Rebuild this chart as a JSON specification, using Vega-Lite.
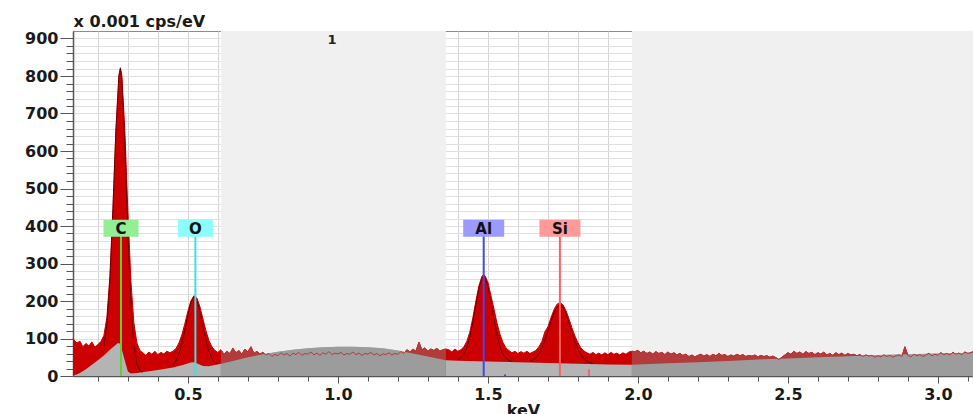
{
  "$schema": "https://vega.github.io/schema/vega-lite/v6.json",
  "width": 900,
  "height": 345,
  "autosize": "none",
  "padding": {"left": 73, "top": 31, "right": 0, "bottom": 38},
  "background": "white",
  "config": {
    "view": {"stroke": "#8c8c8c", "strokeWidth": 1},
    "font": "DejaVu Sans"
  },
  "datasets": {
    "zones": [
      {"e": 0.61, "e2": 1.36},
      {"e": 1.98, "e2": 3.117}
    ],
    "spectrum": [
      {"e": 0.117, "v": 100}, {"e": 0.12, "v": 96}, {"e": 0.13, "v": 88}, {"e": 0.14, "v": 93}, {"e": 0.15, "v": 78},
      {"e": 0.16, "v": 87}, {"e": 0.17, "v": 80}, {"e": 0.18, "v": 91}, {"e": 0.19, "v": 77}, {"e": 0.2, "v": 84},
      {"e": 0.21, "v": 92}, {"e": 0.22, "v": 108}, {"e": 0.23, "v": 157}, {"e": 0.24, "v": 266}, {"e": 0.25, "v": 447},
      {"e": 0.26, "v": 656}, {"e": 0.27, "v": 802}, {"e": 0.275, "v": 822}, {"e": 0.28, "v": 800}, {"e": 0.29, "v": 652},
      {"e": 0.3, "v": 438}, {"e": 0.31, "v": 254}, {"e": 0.32, "v": 141}, {"e": 0.33, "v": 88}, {"e": 0.34, "v": 68},
      {"e": 0.35, "v": 62}, {"e": 0.36, "v": 55}, {"e": 0.37, "v": 64}, {"e": 0.38, "v": 58}, {"e": 0.39, "v": 66},
      {"e": 0.4, "v": 57}, {"e": 0.41, "v": 63}, {"e": 0.42, "v": 59}, {"e": 0.43, "v": 66}, {"e": 0.44, "v": 62},
      {"e": 0.45, "v": 66}, {"e": 0.46, "v": 73}, {"e": 0.47, "v": 88}, {"e": 0.48, "v": 110}, {"e": 0.49, "v": 140},
      {"e": 0.5, "v": 173}, {"e": 0.51, "v": 200}, {"e": 0.52, "v": 214}, {"e": 0.53, "v": 208}, {"e": 0.54, "v": 185},
      {"e": 0.55, "v": 153}, {"e": 0.56, "v": 121}, {"e": 0.57, "v": 95}, {"e": 0.58, "v": 78}, {"e": 0.59, "v": 68},
      {"e": 0.6, "v": 63}, {"e": 0.61, "v": 70}, {"e": 0.62, "v": 58}, {"e": 0.63, "v": 66}, {"e": 0.64, "v": 60},
      {"e": 0.65, "v": 74}, {"e": 0.66, "v": 62}, {"e": 0.67, "v": 68}, {"e": 0.68, "v": 58}, {"e": 0.69, "v": 72},
      {"e": 0.7, "v": 64}, {"e": 0.71, "v": 78}, {"e": 0.72, "v": 60}, {"e": 0.73, "v": 66}, {"e": 0.74, "v": 58},
      {"e": 0.75, "v": 63}, {"e": 0.76, "v": 56}, {"e": 0.77, "v": 60}, {"e": 0.78, "v": 52}, {"e": 0.79, "v": 58},
      {"e": 0.8, "v": 54}, {"e": 0.81, "v": 62}, {"e": 0.82, "v": 56}, {"e": 0.83, "v": 60}, {"e": 0.84, "v": 53},
      {"e": 0.85, "v": 61}, {"e": 0.86, "v": 57}, {"e": 0.87, "v": 63}, {"e": 0.88, "v": 55}, {"e": 0.89, "v": 60},
      {"e": 0.9, "v": 58}, {"e": 0.91, "v": 64}, {"e": 0.92, "v": 56}, {"e": 0.93, "v": 61}, {"e": 0.94, "v": 55},
      {"e": 0.95, "v": 62}, {"e": 0.96, "v": 58}, {"e": 0.97, "v": 65}, {"e": 0.98, "v": 57}, {"e": 0.99, "v": 61},
      {"e": 1.0, "v": 59}, {"e": 1.01, "v": 63}, {"e": 1.02, "v": 56}, {"e": 1.03, "v": 60}, {"e": 1.04, "v": 58},
      {"e": 1.05, "v": 64}, {"e": 1.06, "v": 57}, {"e": 1.07, "v": 61}, {"e": 1.08, "v": 55}, {"e": 1.09, "v": 60},
      {"e": 1.1, "v": 58}, {"e": 1.11, "v": 63}, {"e": 1.12, "v": 56}, {"e": 1.13, "v": 60}, {"e": 1.14, "v": 54},
      {"e": 1.15, "v": 59}, {"e": 1.16, "v": 57}, {"e": 1.17, "v": 62}, {"e": 1.18, "v": 56}, {"e": 1.19, "v": 60},
      {"e": 1.2, "v": 58}, {"e": 1.21, "v": 65}, {"e": 1.22, "v": 60}, {"e": 1.23, "v": 70}, {"e": 1.24, "v": 64},
      {"e": 1.25, "v": 72}, {"e": 1.26, "v": 66}, {"e": 1.27, "v": 90}, {"e": 1.28, "v": 70}, {"e": 1.29, "v": 75},
      {"e": 1.3, "v": 66}, {"e": 1.31, "v": 72}, {"e": 1.32, "v": 68}, {"e": 1.33, "v": 74}, {"e": 1.34, "v": 66},
      {"e": 1.35, "v": 70}, {"e": 1.36, "v": 72}, {"e": 1.37, "v": 70}, {"e": 1.38, "v": 64}, {"e": 1.39, "v": 72},
      {"e": 1.4, "v": 66}, {"e": 1.41, "v": 70}, {"e": 1.42, "v": 78}, {"e": 1.43, "v": 93}, {"e": 1.44, "v": 118},
      {"e": 1.45, "v": 156}, {"e": 1.46, "v": 200}, {"e": 1.47, "v": 240}, {"e": 1.48, "v": 266}, {"e": 1.486, "v": 270},
      {"e": 1.49, "v": 268}, {"e": 1.5, "v": 250}, {"e": 1.51, "v": 215}, {"e": 1.52, "v": 180}, {"e": 1.53, "v": 142},
      {"e": 1.54, "v": 112}, {"e": 1.55, "v": 90}, {"e": 1.56, "v": 75}, {"e": 1.57, "v": 68}, {"e": 1.58, "v": 62},
      {"e": 1.59, "v": 66}, {"e": 1.6, "v": 60}, {"e": 1.61, "v": 65}, {"e": 1.62, "v": 61}, {"e": 1.63, "v": 66},
      {"e": 1.64, "v": 60}, {"e": 1.65, "v": 64}, {"e": 1.66, "v": 68}, {"e": 1.67, "v": 78}, {"e": 1.68, "v": 92},
      {"e": 1.69, "v": 118}, {"e": 1.7, "v": 131}, {"e": 1.71, "v": 155}, {"e": 1.72, "v": 176}, {"e": 1.73, "v": 191},
      {"e": 1.74, "v": 196}, {"e": 1.75, "v": 190}, {"e": 1.76, "v": 175}, {"e": 1.77, "v": 153}, {"e": 1.78, "v": 129},
      {"e": 1.79, "v": 107}, {"e": 1.8, "v": 89}, {"e": 1.81, "v": 75}, {"e": 1.82, "v": 67}, {"e": 1.83, "v": 62},
      {"e": 1.84, "v": 58}, {"e": 1.85, "v": 63}, {"e": 1.86, "v": 57}, {"e": 1.87, "v": 61}, {"e": 1.88, "v": 56},
      {"e": 1.89, "v": 62}, {"e": 1.9, "v": 57}, {"e": 1.91, "v": 63}, {"e": 1.92, "v": 58}, {"e": 1.93, "v": 61},
      {"e": 1.94, "v": 56}, {"e": 1.95, "v": 62}, {"e": 1.96, "v": 58}, {"e": 1.97, "v": 64}, {"e": 1.98, "v": 66},
      {"e": 1.99, "v": 65}, {"e": 2.0, "v": 68}, {"e": 2.01, "v": 62}, {"e": 2.02, "v": 66}, {"e": 2.03, "v": 60},
      {"e": 2.04, "v": 64}, {"e": 2.05, "v": 58}, {"e": 2.06, "v": 65}, {"e": 2.07, "v": 60}, {"e": 2.08, "v": 63},
      {"e": 2.09, "v": 57}, {"e": 2.1, "v": 64}, {"e": 2.11, "v": 58}, {"e": 2.12, "v": 62}, {"e": 2.13, "v": 56},
      {"e": 2.14, "v": 60}, {"e": 2.15, "v": 55}, {"e": 2.16, "v": 58}, {"e": 2.17, "v": 52}, {"e": 2.18, "v": 56},
      {"e": 2.19, "v": 51}, {"e": 2.2, "v": 55}, {"e": 2.21, "v": 58}, {"e": 2.22, "v": 53}, {"e": 2.23, "v": 57},
      {"e": 2.24, "v": 52}, {"e": 2.25, "v": 58}, {"e": 2.26, "v": 54}, {"e": 2.27, "v": 60}, {"e": 2.28, "v": 55},
      {"e": 2.29, "v": 57}, {"e": 2.3, "v": 52}, {"e": 2.31, "v": 56}, {"e": 2.32, "v": 53}, {"e": 2.33, "v": 58},
      {"e": 2.34, "v": 54}, {"e": 2.35, "v": 57}, {"e": 2.36, "v": 52}, {"e": 2.37, "v": 55}, {"e": 2.38, "v": 53},
      {"e": 2.39, "v": 56}, {"e": 2.4, "v": 51}, {"e": 2.41, "v": 55}, {"e": 2.42, "v": 52}, {"e": 2.43, "v": 54},
      {"e": 2.44, "v": 50}, {"e": 2.45, "v": 53}, {"e": 2.46, "v": 49}, {"e": 2.47, "v": 44}, {"e": 2.48, "v": 50},
      {"e": 2.49, "v": 56}, {"e": 2.5, "v": 62}, {"e": 2.51, "v": 58}, {"e": 2.52, "v": 66}, {"e": 2.53, "v": 60},
      {"e": 2.54, "v": 64}, {"e": 2.55, "v": 58}, {"e": 2.56, "v": 65}, {"e": 2.57, "v": 60}, {"e": 2.58, "v": 63},
      {"e": 2.59, "v": 57}, {"e": 2.6, "v": 62}, {"e": 2.61, "v": 58}, {"e": 2.62, "v": 64}, {"e": 2.63, "v": 56},
      {"e": 2.64, "v": 60}, {"e": 2.65, "v": 55}, {"e": 2.66, "v": 62}, {"e": 2.67, "v": 57}, {"e": 2.68, "v": 61},
      {"e": 2.69, "v": 55}, {"e": 2.7, "v": 60}, {"e": 2.71, "v": 56}, {"e": 2.72, "v": 58}, {"e": 2.73, "v": 54},
      {"e": 2.74, "v": 57}, {"e": 2.75, "v": 52}, {"e": 2.76, "v": 56}, {"e": 2.77, "v": 53}, {"e": 2.78, "v": 55},
      {"e": 2.79, "v": 50}, {"e": 2.8, "v": 54}, {"e": 2.81, "v": 51}, {"e": 2.82, "v": 56}, {"e": 2.83, "v": 52},
      {"e": 2.84, "v": 55}, {"e": 2.85, "v": 50}, {"e": 2.86, "v": 54}, {"e": 2.87, "v": 56}, {"e": 2.88, "v": 52},
      {"e": 2.89, "v": 78}, {"e": 2.9, "v": 55}, {"e": 2.91, "v": 51}, {"e": 2.92, "v": 58}, {"e": 2.93, "v": 54},
      {"e": 2.94, "v": 57}, {"e": 2.95, "v": 52}, {"e": 2.96, "v": 56}, {"e": 2.97, "v": 60}, {"e": 2.98, "v": 54},
      {"e": 2.99, "v": 58}, {"e": 3.0, "v": 55}, {"e": 3.01, "v": 62}, {"e": 3.02, "v": 57}, {"e": 3.03, "v": 60},
      {"e": 3.04, "v": 56}, {"e": 3.05, "v": 63}, {"e": 3.06, "v": 58}, {"e": 3.07, "v": 61}, {"e": 3.08, "v": 57},
      {"e": 3.09, "v": 64}, {"e": 3.1, "v": 60}, {"e": 3.11, "v": 62}, {"e": 3.117, "v": 66}
    ],
    "continuum": [
      {"e": 0.117, "v": 0}, {"e": 0.14, "v": 8}, {"e": 0.16, "v": 18}, {"e": 0.18, "v": 30}, {"e": 0.2, "v": 42},
      {"e": 0.22, "v": 55}, {"e": 0.24, "v": 70}, {"e": 0.255, "v": 80}, {"e": 0.267, "v": 88}, {"e": 0.275, "v": 86},
      {"e": 0.28, "v": 70}, {"e": 0.29, "v": 40}, {"e": 0.3, "v": 12}, {"e": 0.31, "v": 7}, {"e": 0.33, "v": 8},
      {"e": 0.4, "v": 16}, {"e": 0.45, "v": 23}, {"e": 0.48, "v": 29}, {"e": 0.51, "v": 36}, {"e": 0.52, "v": 37},
      {"e": 0.535, "v": 32}, {"e": 0.55, "v": 27}, {"e": 0.57, "v": 26}, {"e": 0.61, "v": 33}, {"e": 0.65, "v": 40},
      {"e": 0.7, "v": 50}, {"e": 0.75, "v": 58}, {"e": 0.8, "v": 65}, {"e": 0.85, "v": 70}, {"e": 0.9, "v": 74},
      {"e": 0.95, "v": 77}, {"e": 1.0, "v": 78}, {"e": 1.05, "v": 78}, {"e": 1.1, "v": 77}, {"e": 1.15, "v": 74},
      {"e": 1.2, "v": 68}, {"e": 1.25, "v": 60}, {"e": 1.3, "v": 52}, {"e": 1.36, "v": 42}, {"e": 1.4, "v": 41},
      {"e": 1.5, "v": 39}, {"e": 1.6, "v": 37}, {"e": 1.7, "v": 35}, {"e": 1.8, "v": 33}, {"e": 1.9, "v": 31},
      {"e": 1.98, "v": 30}, {"e": 2.1, "v": 34}, {"e": 2.2, "v": 37}, {"e": 2.3, "v": 40}, {"e": 2.4, "v": 44},
      {"e": 2.5, "v": 47}, {"e": 2.6, "v": 50}, {"e": 2.7, "v": 53}, {"e": 2.8, "v": 56}, {"e": 2.9, "v": 58},
      {"e": 3.0, "v": 60}, {"e": 3.117, "v": 62}
    ],
    "fit": [
      {"peak": "C", "e": 0.22, "v": 79}, {"peak": "C", "e": 0.23, "v": 137}, {"peak": "C", "e": 0.24, "v": 256},
      {"peak": "C", "e": 0.25, "v": 440}, {"peak": "C", "e": 0.26, "v": 655}, {"peak": "C", "e": 0.27, "v": 800},
      {"peak": "C", "e": 0.275, "v": 820}, {"peak": "C", "e": 0.28, "v": 790}, {"peak": "C", "e": 0.29, "v": 615},
      {"peak": "C", "e": 0.3, "v": 380}, {"peak": "C", "e": 0.31, "v": 193}, {"peak": "C", "e": 0.32, "v": 82},
      {"peak": "C", "e": 0.33, "v": 32}, {"peak": "C", "e": 0.34, "v": 14}, {"peak": "C", "e": 0.35, "v": 10},
      {"peak": "O", "e": 0.45, "v": 29}, {"peak": "O", "e": 0.46, "v": 40}, {"peak": "O", "e": 0.47, "v": 58},
      {"peak": "O", "e": 0.48, "v": 86}, {"peak": "O", "e": 0.49, "v": 122}, {"peak": "O", "e": 0.5, "v": 162},
      {"peak": "O", "e": 0.51, "v": 196}, {"peak": "O", "e": 0.52, "v": 212}, {"peak": "O", "e": 0.53, "v": 203},
      {"peak": "O", "e": 0.54, "v": 174}, {"peak": "O", "e": 0.55, "v": 133}, {"peak": "O", "e": 0.56, "v": 97},
      {"peak": "O", "e": 0.57, "v": 66}, {"peak": "O", "e": 0.58, "v": 46}, {"peak": "O", "e": 0.59, "v": 36},
      {"peak": "O", "e": 0.6, "v": 32},
      {"peak": "Al", "e": 1.4, "v": 44}, {"peak": "Al", "e": 1.41, "v": 48}, {"peak": "Al", "e": 1.42, "v": 58},
      {"peak": "Al", "e": 1.43, "v": 76}, {"peak": "Al", "e": 1.44, "v": 105}, {"peak": "Al", "e": 1.45, "v": 145},
      {"peak": "Al", "e": 1.46, "v": 191}, {"peak": "Al", "e": 1.47, "v": 234}, {"peak": "Al", "e": 1.48, "v": 260},
      {"peak": "Al", "e": 1.486, "v": 265}, {"peak": "Al", "e": 1.49, "v": 263}, {"peak": "Al", "e": 1.5, "v": 240},
      {"peak": "Al", "e": 1.51, "v": 200}, {"peak": "Al", "e": 1.52, "v": 153}, {"peak": "Al", "e": 1.53, "v": 111},
      {"peak": "Al", "e": 1.54, "v": 79}, {"peak": "Al", "e": 1.55, "v": 59}, {"peak": "Al", "e": 1.56, "v": 48},
      {"peak": "Al", "e": 1.57, "v": 42}, {"peak": "Al", "e": 1.58, "v": 39},
      {"peak": "Si", "e": 1.64, "v": 39}, {"peak": "Si", "e": 1.65, "v": 43}, {"peak": "Si", "e": 1.66, "v": 49},
      {"peak": "Si", "e": 1.67, "v": 59}, {"peak": "Si", "e": 1.68, "v": 74}, {"peak": "Si", "e": 1.69, "v": 94},
      {"peak": "Si", "e": 1.7, "v": 119}, {"peak": "Si", "e": 1.71, "v": 145}, {"peak": "Si", "e": 1.72, "v": 168},
      {"peak": "Si", "e": 1.73, "v": 184}, {"peak": "Si", "e": 1.74, "v": 190}, {"peak": "Si", "e": 1.75, "v": 184},
      {"peak": "Si", "e": 1.76, "v": 167}, {"peak": "Si", "e": 1.77, "v": 143}, {"peak": "Si", "e": 1.78, "v": 117},
      {"peak": "Si", "e": 1.79, "v": 92}, {"peak": "Si", "e": 1.8, "v": 72}, {"peak": "Si", "e": 1.81, "v": 57},
      {"peak": "Si", "e": 1.82, "v": 46}, {"peak": "Si", "e": 1.83, "v": 40}, {"peak": "Si", "e": 1.84, "v": 36},
      {"peak": "Si", "e": 1.85, "v": 33}
    ],
    "elements": [
      {"el": "C", "e": 0.277},
      {"el": "O", "e": 0.525},
      {"el": "Al", "e": 1.486},
      {"el": "Si", "e": 1.74}
    ],
    "markers": [
      {"el": "Al", "e": 1.557, "v": 4},
      {"el": "Si", "e": 1.837, "v": 18}
    ],
    "spectra": [
      {"e": 0.98, "v": 895, "name": "1"}
    ]
  },
  "encoding": {
    "x": {
      "field": "e",
      "type": "quantitative",
      "title": "keV",
      "scale": {"domain": [0.117, 3.117], "nice": false, "zero": false},
      "axis": {
        "values": [0.2, 0.3, 0.4, 0.5, 0.6, 0.7, 0.8, 0.9, 1.0, 1.1, 1.2, 1.3, 1.4, 1.5, 1.6, 1.7, 1.8, 1.9, 2.0, 2.1, 2.2, 2.3, 2.4, 2.5, 2.6, 2.7, 2.8, 2.9, 3.0, 3.1],
        "labelExpr": "round(datum.value * 10) % 5 == 0 ? format(datum.value, '.1f') : ''",
        "labelFont": "DejaVu Sans",
        "labelFontWeight": "bold",
        "labelFontSize": 16,
        "labelColor": "#1a1a1a",
        "labelPadding": 3,
        "labelFlush": false,
        "labelOverlap": false,
        "tickSize": {"condition": {"test": "round(datum.value * 10) % 5 == 0", "value": 7}, "value": 5},
        "tickColor": "#555555",
        "domainColor": "#555555",
        "domainWidth": 1.5,
        "grid": true,
        "gridColor": "#d4d4d4",
        "gridWidth": 1,
        "titleFont": "DejaVu Sans",
        "titleFontWeight": "bold",
        "titleFontSize": 16,
        "titleColor": "#1a1a1a",
        "titleBaseline": "top",
        "titleY": 26
      }
    }
  },
  "layer": [
    {
      "data": {"name": "zones"},
      "mark": {"type": "rect", "color": "#f0f0f0"},
      "encoding": {
        "x2": {"field": "e2"},
        "y": {
          "datum": 920,
          "type": "quantitative",
          "title": "x 0.001 cps/eV",
          "scale": {"domain": [0, 920], "nice": false},
          "axis": {
            "values": [0, 20, 40, 60, 80, 100, 120, 140, 160, 180, 200, 220, 240, 260, 280, 300, 320, 340, 360, 380, 400, 420, 440, 460, 480, 500, 520, 540, 560, 580, 600, 620, 640, 660, 680, 700, 720, 740, 760, 780, 800, 820, 840, 860, 880, 900],
            "labelExpr": "datum.value % 100 == 0 ? format(datum.value, 'd') : ''",
            "labelFont": "DejaVu Sans",
            "labelFontWeight": "bold",
            "labelFontSize": 16,
            "labelColor": "#1a1a1a",
            "labelPadding": 2,
            "labelFlush": false,
            "labelOverlap": false,
            "tickSize": {"condition": {"test": "datum.value % 100 == 0", "value": 13}, "value": 7},
            "tickColor": "#555555",
            "domainColor": "#555555",
            "domainWidth": 1.5,
            "grid": true,
            "gridColor": "#e0e0e0",
            "gridWidth": 1,
            "titleFont": "DejaVu Sans",
            "titleFontWeight": "bold",
            "titleFontSize": 16,
            "titleColor": "#1a1a1a",
            "titleAngle": 0,
            "titleAlign": "left",
            "titleBaseline": "alphabetic",
            "titleX": 0,
            "titleY": -5
          }
        },
        "y2": {"datum": 0}
      }
    },
    {
      "encoding": {
        "y": {
          "field": "v",
          "type": "quantitative",
          "title": "x 0.001 cps/eV",
          "scale": {"domain": [0, 920], "nice": false},
          "axis": {
            "values": [0, 20, 40, 60, 80, 100, 120, 140, 160, 180, 200, 220, 240, 260, 280, 300, 320, 340, 360, 380, 400, 420, 440, 460, 480, 500, 520, 540, 560, 580, 600, 620, 640, 660, 680, 700, 720, 740, 760, 780, 800, 820, 840, 860, 880, 900],
            "labelExpr": "datum.value % 100 == 0 ? format(datum.value, 'd') : ''",
            "labelFont": "DejaVu Sans",
            "labelFontWeight": "bold",
            "labelFontSize": 16,
            "labelColor": "#1a1a1a",
            "labelPadding": 2,
            "labelFlush": false,
            "labelOverlap": false,
            "tickSize": {"condition": {"test": "datum.value % 100 == 0", "value": 13}, "value": 7},
            "tickColor": "#555555",
            "domainColor": "#555555",
            "domainWidth": 1.5,
            "grid": true,
            "gridColor": "#e0e0e0",
            "gridWidth": 1,
            "titleFont": "DejaVu Sans",
            "titleFontWeight": "bold",
            "titleFontSize": 16,
            "titleColor": "#1a1a1a",
            "titleAngle": 0,
            "titleAlign": "left",
            "titleBaseline": "alphabetic",
            "titleX": 0,
            "titleY": -5
          }
        }
      },
      "layer": [
        {
          "data": {"name": "spectrum"},
          "mark": {"type": "area", "color": "#cc0000", "opacity": 1}
        },
        {
          "data": {"name": "continuum"},
          "mark": {"type": "area", "color": "#b4b4b4", "opacity": 1}
        },
        {
          "data": {"name": "spectrum"},
          "mark": {"type": "line", "color": "#c80000", "strokeWidth": 1}
        },
        {
          "data": {"name": "spectrum"},
          "transform": [{"filter": {"field": "e", "range": [0.61, 1.36]}}],
          "mark": {"type": "area", "color": "#b23b3b", "opacity": 1}
        },
        {
          "data": {"name": "continuum"},
          "transform": [{"filter": {"field": "e", "range": [0.61, 1.36]}}],
          "mark": {"type": "area", "color": "#9c9c9c", "opacity": 1}
        },
        {
          "data": {"name": "spectrum"},
          "transform": [{"filter": {"field": "e", "range": [0.61, 1.36]}}],
          "mark": {"type": "line", "color": "#b23b3b", "strokeWidth": 1}
        },
        {
          "data": {"name": "spectrum"},
          "transform": [{"filter": {"field": "e", "range": [1.98, 3.117]}}],
          "mark": {"type": "area", "color": "#b23b3b", "opacity": 1}
        },
        {
          "data": {"name": "continuum"},
          "transform": [{"filter": {"field": "e", "range": [1.98, 3.117]}}],
          "mark": {"type": "area", "color": "#9c9c9c", "opacity": 1}
        },
        {
          "data": {"name": "spectrum"},
          "transform": [{"filter": {"field": "e", "range": [1.98, 3.117]}}],
          "mark": {"type": "line", "color": "#b23b3b", "strokeWidth": 1}
        },
        {
          "data": {"name": "fit"},
          "mark": {"type": "line", "color": "#2a0000", "strokeWidth": 1, "opacity": 0.6},
          "encoding": {"detail": {"field": "peak"}}
        },
        {
          "data": {"name": "markers"},
          "mark": {"type": "rule", "strokeWidth": 2},
          "encoding": {
            "y2": {"datum": 0},
            "color": {
              "field": "el",
              "type": "nominal",
              "legend": null,
              "scale": {"domain": ["C", "O", "Al", "Si"], "range": ["#5fcf3a", "#3fe0e0", "#4646f0", "#ff6060"]}
            }
          }
        },
        {
          "data": {"name": "spectra"},
          "mark": {"type": "text", "font": "DejaVu Sans", "fontWeight": "bold", "fontSize": 13, "color": "#222222", "baseline": "middle", "align": "center"},
          "encoding": {
            "text": {"field": "name"}
          }
        }
      ]
    },
    {
      "data": {"name": "elements"},
      "encoding": {
        "y": {
          "datum": 394,
          "type": "quantitative",
          "title": "x 0.001 cps/eV",
          "scale": {"domain": [0, 920], "nice": false},
          "axis": {
            "values": [0, 20, 40, 60, 80, 100, 120, 140, 160, 180, 200, 220, 240, 260, 280, 300, 320, 340, 360, 380, 400, 420, 440, 460, 480, 500, 520, 540, 560, 580, 600, 620, 640, 660, 680, 700, 720, 740, 760, 780, 800, 820, 840, 860, 880, 900],
            "labelExpr": "datum.value % 100 == 0 ? format(datum.value, 'd') : ''",
            "labelFont": "DejaVu Sans",
            "labelFontWeight": "bold",
            "labelFontSize": 16,
            "labelColor": "#1a1a1a",
            "labelPadding": 2,
            "labelFlush": false,
            "labelOverlap": false,
            "tickSize": {"condition": {"test": "datum.value % 100 == 0", "value": 13}, "value": 7},
            "tickColor": "#555555",
            "domainColor": "#555555",
            "domainWidth": 1.5,
            "grid": true,
            "gridColor": "#e0e0e0",
            "gridWidth": 1,
            "titleFont": "DejaVu Sans",
            "titleFontWeight": "bold",
            "titleFontSize": 16,
            "titleColor": "#1a1a1a",
            "titleAngle": 0,
            "titleAlign": "left",
            "titleBaseline": "alphabetic",
            "titleX": 0,
            "titleY": -5
          }
        }
      },
      "layer": [
        {
          "mark": {"type": "rule", "strokeWidth": 2},
          "encoding": {
            "y2": {"datum": 0},
            "color": {
              "field": "el",
              "type": "nominal",
              "legend": null,
              "scale": {"domain": ["C", "O", "Al", "Si"], "range": ["#5fcf3a", "#3fe0e0", "#4646f0", "#ff6060"]}
            }
          }
        },
        {
          "transform": [{"filter": {"field": "el", "oneOf": ["C", "O"]}}],
          "mark": {"type": "point", "filled": true, "opacity": 1, "strokeWidth": 0, "size": 1225, "shape": "M-1,-0.486H1V0.486H-1Z"},
          "encoding": {
            "color": {
              "field": "el",
              "type": "nominal",
              "legend": null,
              "scale": {"domain": ["C", "O", "Al", "Si"], "range": ["#94ee94", "#8cfcfc", "#9a9aff", "#ff9a9a"]}
            }
          }
        },
        {
          "transform": [{"filter": {"field": "el", "oneOf": ["Al", "Si"]}}],
          "mark": {"type": "point", "filled": true, "opacity": 1, "strokeWidth": 0, "size": 1681, "shape": "M-1,-0.415H1V0.415H-1Z"},
          "encoding": {
            "color": {
              "field": "el",
              "type": "nominal",
              "legend": null,
              "scale": {"domain": ["C", "O", "Al", "Si"], "range": ["#94ee94", "#8cfcfc", "#9a9aff", "#ff9a9a"]}
            }
          }
        },
        {
          "mark": {"type": "text", "font": "DejaVu Sans", "fontWeight": "bold", "fontSize": 15, "color": "#111111", "baseline": "middle", "align": "center", "dy": 1},
          "encoding": {
            "text": {"field": "el"}
          }
        }
      ],
      "resolve": {"scale": {"color": "independent"}}
    }
  ],
  "resolve": {"scale": {"color": "independent"}}
}
